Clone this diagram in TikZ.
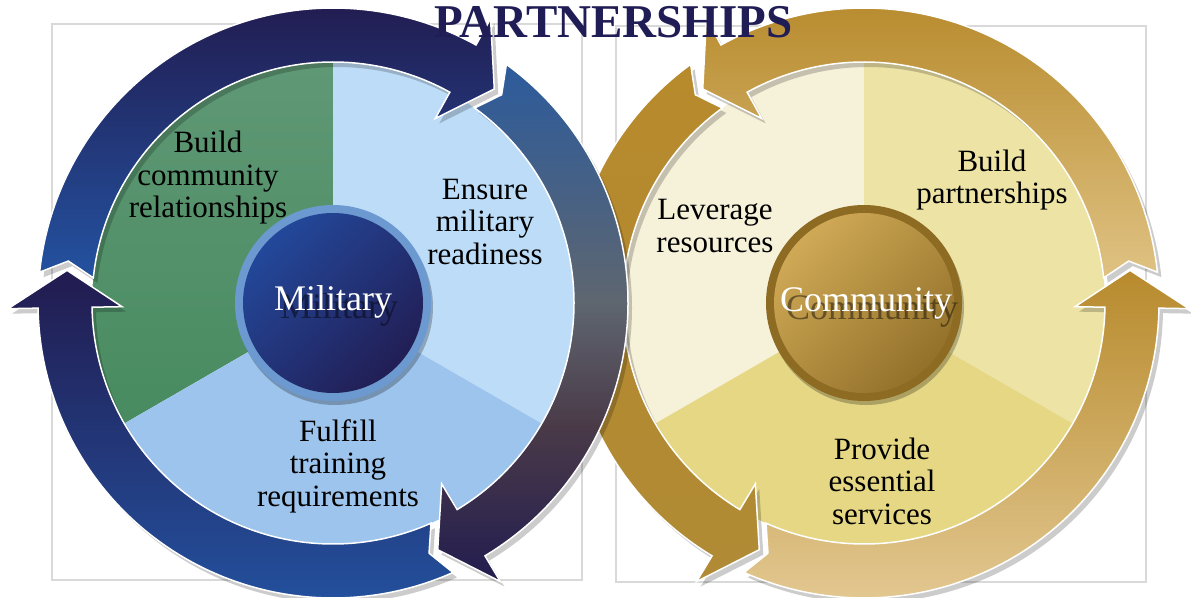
\documentclass[tikz,border=0pt]{standalone}
\usepackage{fontspec}
\setmainfont{Liberation Serif}

\definecolor{navyA}{HTML}{221B4F}
\definecolor{blueA}{HTML}{2352A0}
\definecolor{milTop}{HTML}{2C5B9C}
\definecolor{milGray}{HTML}{5E6670}
\definecolor{milPurple}{HTML}{4A3A48}
\definecolor{milNavy}{HTML}{221D50}
\definecolor{goldA}{HTML}{B78A2C}
\definecolor{tanA}{HTML}{DFC283}
\definecolor{goldMid}{HTML}{8A6838}
\definecolor{goldBot}{HTML}{B08A35}
\definecolor{tanB}{HTML}{E4CA95}
\definecolor{grnTop}{HTML}{5F9875}
\definecolor{grnBot}{HTML}{488B60}
\definecolor{ensureBlue}{HTML}{BDDCF7}
\definecolor{fulfillBlue}{HTML}{9DC4EC}
\definecolor{cream}{HTML}{F6F1D9}
\definecolor{paleYellow}{HTML}{EDE3A4}
\definecolor{deepYellow}{HTML}{E6D784}
\definecolor{ringBlue}{HTML}{6C9AD0}
\definecolor{diskTop}{HTML}{23489A}
\definecolor{diskBot}{HTML}{221E55}
\definecolor{ringGold}{HTML}{8E6B22}
\definecolor{diskGoldTop}{HTML}{CFA956}
\definecolor{diskGoldBot}{HTML}{93712A}
\definecolor{titleNavy}{HTML}{201C55}
\definecolor{frameGray}{HTML}{D9D9D9}

\pgfdeclareverticalshading{milbridge}{100bp}{color(0bp)=(milNavy); color(25bp)=(milNavy); color(40bp)=(milPurple); color(52bp)=(milGray); color(75bp)=(milTop); color(100bp)=(milTop)}

\tikzset{
  band/.style={draw=white, line width=1.5pt},
  bandshadow/.style={fill=black, opacity=0.2, shift={(4,-5)}},
  lbl/.style={font=\fontsize{31}{32.5}\selectfont, align=center, text=black},
  hub/.style={font=\fontsize{36}{40}\selectfont, text=white},
  hubshadow/.style={font=\fontsize{36}{40}\selectfont, text=black, opacity=0.45},
}

% clockwise arrow: #1 head before it, #2 own head
\newcommand{\cwarrow}[3]{%
  \path[#3] ({#1-7}:295) arc[start angle={#1-7}, end angle={#2}, radius=295]
    -- (#2:325) -- ({#2-8}:268) -- (#2:211) -- (#2:241)
    arc[start angle={#2}, end angle={#1-7}, radius=241] -- ({#1-10}:268) -- cycle;}
% counter clockwise arrow
\newcommand{\ccwarrow}[3]{%
  \path[#3] ({#1+7}:295) arc[start angle={#1+7}, end angle={#2}, radius=295]
    -- (#2:325) -- ({#2+8}:268) -- (#2:211) -- (#2:241)
    arc[start angle={#2}, end angle={#1+7}, radius=241] -- ({#1+10}:268) -- cycle;}

\begin{document}
\begin{tikzpicture}[x=1pt,y=1pt]
\useasboundingbox (0,0) rectangle (1191,597);

\draw[frameGray, line width=2] (52,17) rectangle (582,573);
\draw[frameGray, line width=2] (616,15) rectangle (1146,571);

%% community side
\begin{scope}[shift={(864,294)}]
\fill[cream] (0,0) -- (90:242) arc[start angle=90, end angle=210, radius=242] -- cycle;
\fill[paleYellow] (0,0) -- (-30:242) arc[start angle=-30, end angle=90, radius=242] -- cycle;
\fill[deepYellow] (0,0) -- (210:242) arc[start angle=210, end angle=330, radius=242] -- cycle;
\draw[white, line width=2] (0,0) circle[radius=242];

\ccwarrow{-1}{119}{bandshadow}
\ccwarrow{119}{239}{bandshadow}
\ccwarrow{239}{359}{bandshadow}
\ccwarrow{-1}{119}{band, top color=goldA, bottom color=tanA}
\ccwarrow{119}{239}{band, top color=goldA, middle color=goldMid, bottom color=goldBot}
\ccwarrow{239}{359}{band, top color=goldA, bottom color=tanB}

\fill[black, opacity=0.25] (2,-4) circle[radius=98];
\fill[ringGold] (0,0) circle[radius=98];
\shade[top color=diskGoldTop, bottom color=diskGoldBot, shading angle=45] (0,0) circle[radius=90];

\node[lbl] (leverage) at (-149,77) {Leverage\\resources};
\node[lbl] (partner) at (128,123) {Build\\partnerships};
\node[lbl] (services) at (18,-178) {Provide\\essential\\services};
\node[hubshadow] (commShadow) at (8,-8) {Community};
\node[hub] (comm) at (2,0) {Community};
\end{scope}

%% military side
\begin{scope}[shift={(333,294)}]
\path[top color=grnTop, bottom color=grnBot] (0,0) -- (90:242) arc[start angle=90, end angle=210, radius=242] -- cycle;
\fill[ensureBlue] (0,0) -- (-30:242) arc[start angle=-30, end angle=90, radius=242] -- cycle;
\fill[fulfillBlue] (0,0) -- (210:242) arc[start angle=210, end angle=330, radius=242] -- cycle;
\draw[white, line width=2] (0,0) circle[radius=242];

\cwarrow{181}{61}{bandshadow}
\cwarrow{61}{-59}{bandshadow}
\cwarrow{-59}{-179}{bandshadow}
\cwarrow{181}{61}{band, top color=navyA, bottom color=blueA}
\cwarrow{61}{-59}{band, shading=milbridge}
\cwarrow{-59}{-179}{band, top color=navyA, bottom color=blueA}

\fill[black, opacity=0.25] (2,-4) circle[radius=98];
\fill[ringBlue] (0,0) circle[radius=98];
\shade[top color=diskTop, bottom color=diskBot, shading angle=45] (0,0) circle[radius=90];

\node[lbl] (relations) at (-125,125) {Build\\community\\relationships};
\node[lbl] (readiness) at (152,81) {Ensure\\military\\readiness};
\node[lbl] (training) at (5,-163) {Fulfill\\training\\requirements};
\node[hubshadow] (milShadow) at (6,-7) {Military};
\node[hub] (mil) at (0,1) {Military};
\end{scope}

\node[font=\fontsize{47}{50}\selectfont\bfseries, text=titleNavy] (title) at (613.5,574.5) {PARTNERSHIPS};
\end{tikzpicture}
\end{document}
